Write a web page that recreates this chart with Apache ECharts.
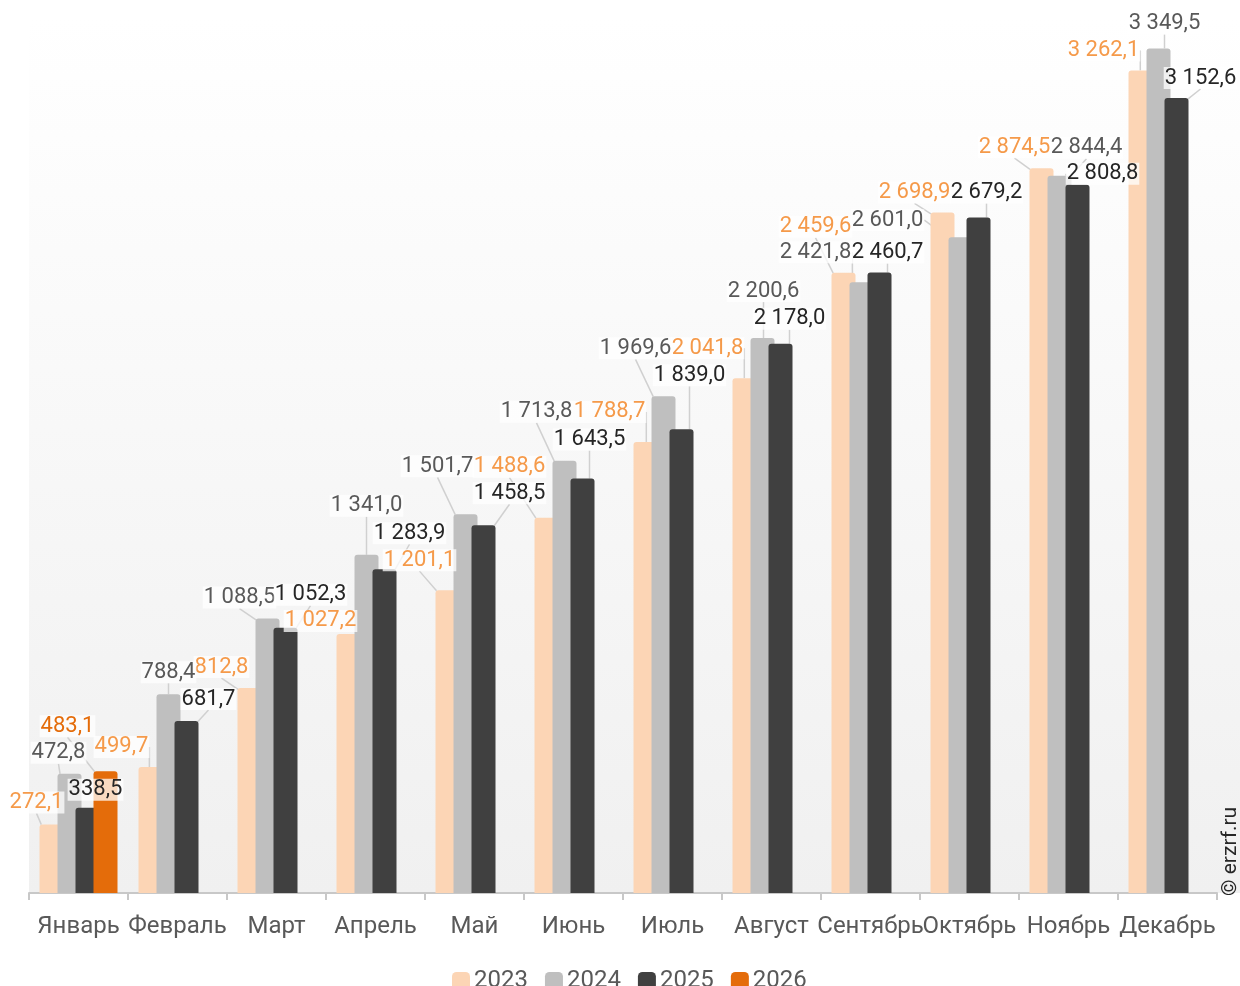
<!DOCTYPE html>
<html>
<head>
<meta charset="utf-8">
<script src="https://cdn.jsdelivr.net/npm/echarts@6/dist/echarts.min.js"></script>
<style>
  html, body { margin: 0; padding: 0; background: #fff; }
  #chart { width: 1240px; height: 986px; }
</style>
</head>
<body>
<div id="chart"></div>
<script>
var months = ['Январь', 'Февраль', 'Март', 'Апрель', 'Май', 'Июнь', 'Июль', 'Август', 'Сентябрь', 'Октябрь', 'Ноябрь', 'Декабрь'];
var years = ['2023', '2024', '2025', '2026'];
var v2023 = [272.1, 499.7, 812.8, 1027.2, 1201.1, 1488.6, 1788.7, 2041.8, 2459.6, 2698.9, 2874.5, 3262.1];
var v2024 = [472.8, 788.4, 1088.5, 1341.0, 1501.7, 1713.8, 1969.6, 2200.6, 2421.8, 2601.0, 2844.4, 3349.5];
var v2025 = [338.5, 681.7, 1052.3, 1283.9, 1458.5, 1643.5, 1839.0, 2178.0, 2460.7, 2679.2, 2808.8, 3152.6];
var v2026 = [483.1, '-', '-', '-', '-', '-', '-', '-', '-', '-', '-', '-'];

var barColors = ['#fcd5b5', '#bfbfbf', '#404040', '#e46c0a'];
var labelColors = ['#f59a4a', '#595959', '#262626', '#e46c0a'];

// label offsets from bar top-centre [dx, dy], per series, per month
var labelOffsets = [
  [[-15,-22],[-29,-20],[-28,-21],[-28,-13],[-28,-30],[-37,-51],[-36,-30],[-37,-30],[-28,-46],[-28,-20],[-27,-21],[-37,-20]],
  [[-11,-21],[0,-22],[-28,-21],[0,-49],[-28,-48],[-28,-49],[-28,-48],[1,-47],[-46,-30],[-73,-17],[27,-28],[6,-25]],
  [[8,-18],[22,-22],[25,-33],[25,-36],[26,-32],[7,-39],[8,-54],[9,-25],[8,-20],[8,-25],[25,-11],[24,-20]],
  [[-38,-45]]
];

function fmt(v) {
  var s = Number(v).toFixed(1).split('.');
  return s[0].replace(/\B(?=(\d{3})+(?!\d))/g, ' ') + ',' + s[1];
}

var chart = echarts.init(document.getElementById('chart'));
var allData = [v2023, v2024, v2025, v2026];

var series = allData.map(function (d, i) {
  return {
    name: years[i],
    type: 'bar',
    data: d,
    barWidth: 24,
    barGap: '-25%',
    itemStyle: { color: barColors[i], borderRadius: [3, 3, 0, 0] },
    label: {
      show: true,
      position: 'top',
      formatter: function (p) { return fmt(p.value); },
      color: labelColors[i],
      fontFamily: 'Roboto',
      fontSize: 22,
      backgroundColor: 'rgba(255,255,255,0.75)',
      padding: [0, 1]
    },
    labelLine: {
      show: true,
      lineStyle: { color: '#d0d0d0', width: 1.5 }
    },
    labelLayout: function (p) {
      var off = (labelOffsets[p.seriesIndex] || [])[p.dataIndex] || [0, -20];
      return {
        x: p.rect.x + p.rect.width / 2 + off[0],
        y: p.rect.y + off[1],
        align: 'center',
        verticalAlign: 'middle'
      };
    }
  };
});

var option = {
  backgroundColor: '#ffffff',
  animation: false,
  graphic: [
    {
      type: 'rect',
      z: -10,
      shape: { x: 29, y: 18, width: 1211, height: 875 },
      style: {
        fill: new echarts.graphic.LinearGradient(0, 0, 0, 1, [
          { offset: 0, color: '#ffffff' },
          { offset: 1, color: '#f0f0f0' }
        ])
      },
      silent: true
    },
    {
      type: 'text',
      x: 1220,
      y: 896,
      rotation: Math.PI / 2,
      style: {
        text: '© erzrf.ru',
        fontFamily: 'Roboto',
        fontSize: 21,
        fill: '#262626',
        align: 'left',
        verticalAlign: 'top'
      }
    }
  ],
  grid: { left: 29, right: 23, top: 18, bottom: 93 },
  legend: {
    data: years,
    top: 964,
    left: 447,
    itemWidth: 18,
    itemHeight: 18,
    itemGap: 17,
    icon: 'roundRect',
    textStyle: { color: '#595959', fontFamily: 'Roboto', fontSize: 24, padding: [0, 0, 0, -1] }
  },
  xAxis: {
    type: 'category',
    data: months,
    axisLine: { lineStyle: { color: '#c8c8c8', width: 2 } },
    axisTick: { show: true, interval: 0, length: 7, lineStyle: { color: '#c8c8c8', width: 2 } },
    axisLabel: { interval: 0, color: '#595959', fontFamily: 'Roboto', fontSize: 24, margin: 22 }
  },
  yAxis: {
    type: 'value',
    show: false,
    min: 0,
    max: 3470,
    splitLine: { show: false }
  },
  series: series
};

chart.setOption(option);
</script>
</body>
</html>
